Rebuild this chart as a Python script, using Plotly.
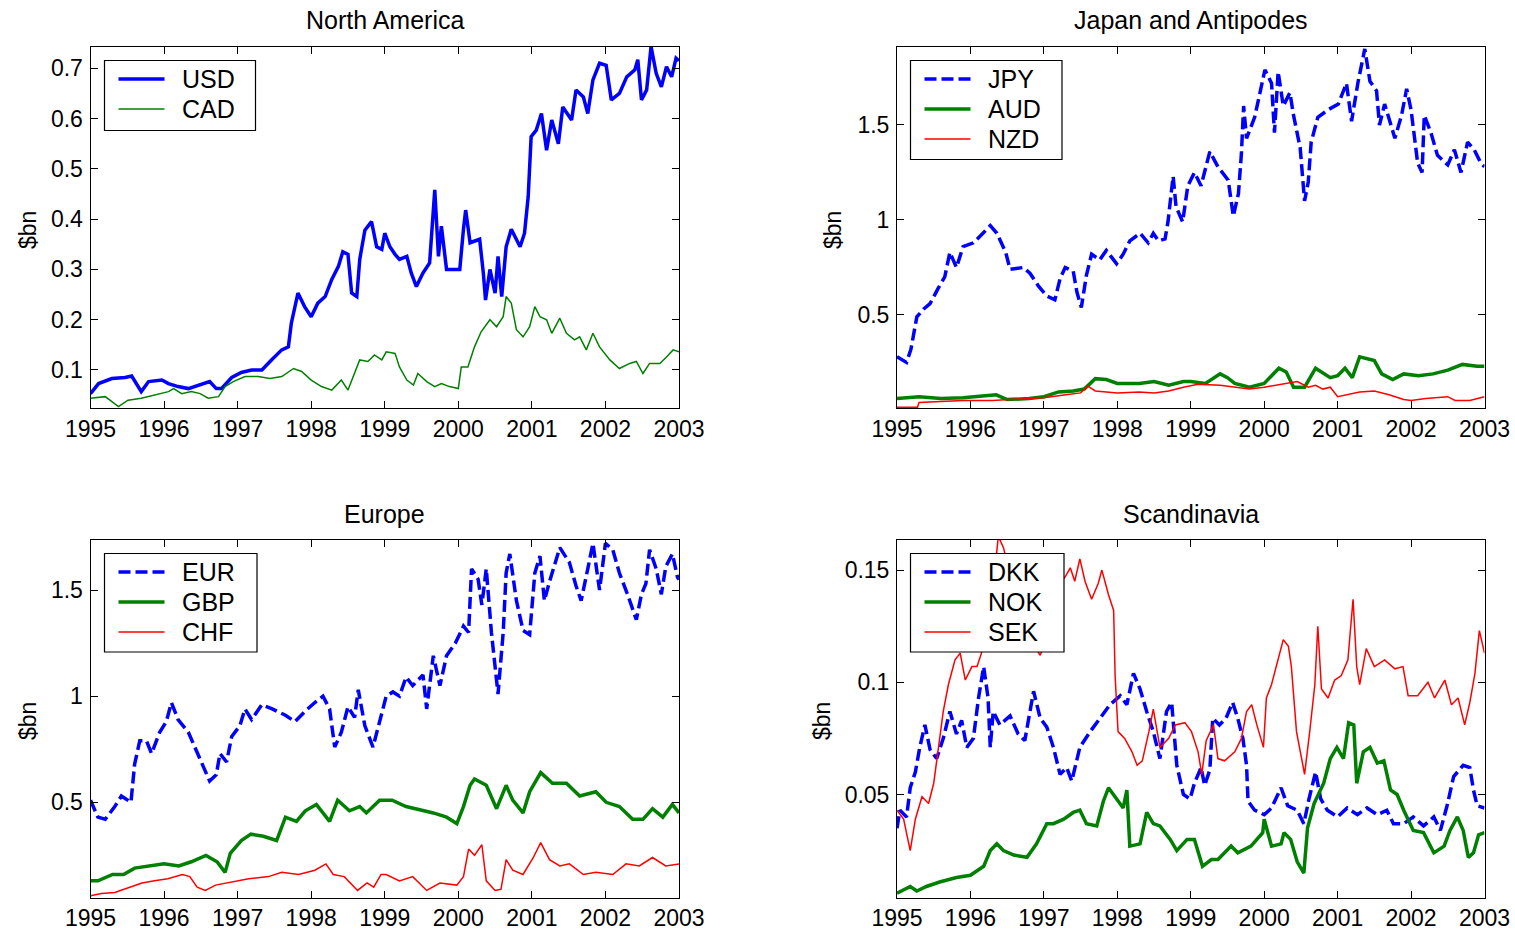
import plotly.graph_objects as go

W, H = 1515, 934
BLUE, GREEN, RED = "#0000ff", "#008000", "#ff0000"
FONT = "Liberation Sans, Arial, sans-serif"

# ---------------- data (year, $bn) ----------------
years = list(range(1995, 2004))

usd = [(1995.0,0.053),(1995.11,0.073),(1995.29,0.083),(1995.47,0.085),(1995.56,0.088),(1995.6,0.078),
       (1995.69,0.057),(1995.79,0.077),(1995.97,0.08),(1996.06,0.073),(1996.19,0.067),(1996.33,0.063),
       (1996.46,0.07),(1996.62,0.077),(1996.71,0.063),(1996.78,0.063),(1996.92,0.085),(1997.05,0.095),
       (1997.19,0.1),(1997.33,0.1),(1997.46,0.12),(1997.6,0.14),(1997.69,0.146),(1997.73,0.193),
       (1997.82,0.253),(1997.91,0.226),(1998.0,0.206),(1998.09,0.233),(1998.19,0.246),(1998.28,0.28),
       (1998.37,0.306),(1998.43,0.335),(1998.5,0.33),(1998.55,0.253),(1998.62,0.246),(1998.66,0.32),
       (1998.73,0.378),(1998.82,0.395),(1998.89,0.345),(1998.96,0.34),(1999.0,0.372),(1999.07,0.345),
       (1999.14,0.33),(1999.2,0.32),(1999.3,0.326),(1999.36,0.293),(1999.43,0.266),(1999.52,0.293),
       (1999.61,0.313),(1999.68,0.458),(1999.73,0.326),(1999.77,0.386),(1999.84,0.3),(1999.93,0.3),
       (2000.02,0.3),(2000.07,0.38),(2000.1,0.418),(2000.16,0.353),(2000.29,0.36),(2000.34,0.293),
       (2000.37,0.239),(2000.43,0.3),(2000.5,0.253),(2000.54,0.326),(2000.59,0.246),(2000.65,0.345),
       (2000.72,0.38),(2000.84,0.345),(2000.9,0.372),(2000.95,0.445),(2000.99,0.564),(2001.06,0.577),
       (2001.13,0.61),(2001.2,0.537),(2001.27,0.597),(2001.36,0.55),(2001.42,0.623),(2001.54,0.597),
       (2001.6,0.657),(2001.7,0.643),(2001.76,0.61),(2001.83,0.677),(2001.92,0.71),(2002.01,0.706),
       (2002.08,0.637),(2002.19,0.65),(2002.29,0.683),(2002.4,0.697),(2002.44,0.717),(2002.49,0.637),
       (2002.56,0.657),(2002.62,0.743),(2002.69,0.69),(2002.76,0.663),(2002.83,0.703),(2002.9,0.683),
       (2002.96,0.72),(2003.0,0.715)]

cad = [(1995.0,0.044),(1995.2,0.047),(1995.38,0.027),(1995.51,0.04),(1995.69,0.044),(1995.88,0.05),
       (1996.06,0.057),(1996.13,0.063),(1996.24,0.053),(1996.37,0.057),(1996.49,0.053),(1996.6,0.044),
       (1996.74,0.047),(1996.83,0.067),(1996.94,0.077),(1997.1,0.087),(1997.28,0.087),(1997.44,0.083),
       (1997.6,0.087),(1997.76,0.103),(1997.87,0.097),(1998.0,0.08),(1998.14,0.067),(1998.28,0.06),
       (1998.41,0.08),(1998.5,0.06),(1998.59,0.093),(1998.66,0.12),(1998.77,0.117),(1998.86,0.13),
       (1998.96,0.12),(1999.02,0.136),(1999.14,0.133),(1999.2,0.106),(1999.3,0.08),(1999.39,0.07),
       (1999.45,0.093),(1999.57,0.077),(1999.68,0.067),(1999.77,0.073),(1999.88,0.067),(2000.0,0.063),
       (2000.04,0.106),(2000.13,0.106),(2000.22,0.146),(2000.31,0.176),(2000.43,0.2),(2000.52,0.186),
       (2000.61,0.206),(2000.65,0.246),(2000.72,0.233),(2000.79,0.18),(2000.88,0.166),(2000.97,0.186),
       (2001.04,0.226),(2001.11,0.206),(2001.2,0.2),(2001.27,0.173),(2001.38,0.203),(2001.47,0.173),
       (2001.58,0.16),(2001.65,0.166),(2001.74,0.14),(2001.83,0.173),(2001.92,0.146),(2002.06,0.12),
       (2002.19,0.103),(2002.33,0.113),(2002.42,0.117),(2002.51,0.093),(2002.6,0.113),(2002.74,0.113),
       (2002.83,0.126),(2002.92,0.14),(2003.0,0.136)]

jpy = [(1995.0,0.28),(1995.13,0.25),(1995.19,0.32),(1995.27,0.49),(1995.36,0.53),(1995.45,0.56),
       (1995.56,0.64),(1995.65,0.7),(1995.72,0.83),(1995.81,0.75),(1995.9,0.86),(1996.04,0.88),
       (1996.17,0.93),(1996.27,0.97),(1996.36,0.93),(1996.48,0.83),(1996.54,0.74),(1996.72,0.75),
       (1996.81,0.72),(1996.93,0.65),(1997.04,0.6),(1997.15,0.58),(1997.22,0.69),(1997.29,0.75),
       (1997.4,0.73),(1997.45,0.62),(1997.51,0.54),(1997.58,0.71),(1997.65,0.82),(1997.76,0.79),
       (1997.85,0.84),(1997.99,0.77),(1998.08,0.82),(1998.17,0.89),(1998.31,0.93),(1998.42,0.88),
       (1998.49,0.93),(1998.56,0.89),(1998.65,0.9),(1998.69,0.99),(1998.76,1.23),(1998.8,1.07),
       (1998.89,0.99),(1998.96,1.18),(1999.05,1.25),(1999.14,1.18),(1999.26,1.36),(1999.37,1.28),
       (1999.51,1.21),(1999.58,1.02),(1999.65,1.14),(1999.69,1.35),(1999.72,1.6),(1999.76,1.43),
       (1999.87,1.54),(1999.96,1.7),(2000.01,1.79),(2000.1,1.72),(2000.14,1.46),(2000.19,1.78),
       (2000.26,1.6),(2000.35,1.67),(2000.4,1.55),(2000.49,1.38),(2000.55,1.1),(2000.6,1.2),
       (2000.64,1.41),(2000.73,1.54),(2000.87,1.58),(2001.01,1.61),(2001.12,1.72),(2001.19,1.52),
       (2001.28,1.73),(2001.37,1.9),(2001.44,1.73),(2001.53,1.68),(2001.57,1.5),(2001.64,1.61),
       (2001.78,1.43),(2001.87,1.55),(2001.94,1.69),(2002.0,1.58),(2002.09,1.3),(2002.15,1.25),
       (2002.18,1.55),(2002.27,1.46),(2002.36,1.34),(2002.5,1.29),(2002.59,1.37),(2002.68,1.25),
       (2002.77,1.41),(2002.86,1.37),(2002.95,1.3),(2003.0,1.28)]

aud = [(1995.0,0.06),(1995.3,0.07),(1995.6,0.06),(1995.9,0.065),(1996.2,0.075),(1996.35,0.08),
       (1996.5,0.055),(1996.8,0.06),(1997.0,0.07),(1997.2,0.095),(1997.4,0.1),(1997.55,0.11),
       (1997.7,0.165),(1997.85,0.16),(1998.0,0.14),(1998.3,0.14),(1998.5,0.15),(1998.7,0.13),
       (1998.9,0.15),(1999.0,0.15),(1999.2,0.14),(1999.4,0.19),(1999.5,0.17),(1999.6,0.14),
       (1999.8,0.12),(2000.0,0.14),(2000.2,0.22),(2000.3,0.2),(2000.4,0.12),(2000.55,0.12),
       (2000.7,0.22),(2000.9,0.17),(2001.0,0.18),(2001.1,0.22),(2001.2,0.17),(2001.3,0.28),
       (2001.5,0.26),(2001.6,0.19),(2001.75,0.16),(2001.9,0.19),(2002.1,0.18),(2002.3,0.19),
       (2002.5,0.21),(2002.7,0.24),(2002.9,0.23),(2003.0,0.23)]

nzd = [(1995.0,0.015),(1995.28,0.015),(1995.3,0.04),(1995.6,0.045),(1995.9,0.05),(1996.3,0.05),
       (1996.6,0.055),(1997.0,0.065),(1997.3,0.08),(1997.5,0.09),(1997.6,0.125),(1997.7,0.1),
       (1998.0,0.09),(1998.3,0.095),(1998.5,0.09),(1998.7,0.1),(1998.9,0.12),(1999.1,0.135),
       (1999.4,0.13),(1999.6,0.12),(1999.8,0.11),(2000.0,0.12),(2000.3,0.14),(2000.45,0.15),
       (2000.6,0.12),(2000.7,0.13),(2000.8,0.11),(2000.9,0.12),(2001.0,0.07),(2001.3,0.095),
       (2001.5,0.1),(2001.7,0.08),(2001.9,0.055),(2002.0,0.05),(2002.2,0.06),(2002.5,0.07),
       (2002.6,0.05),(2002.8,0.05),(2003.0,0.07)]

eur = [(1995.0,0.51),(1995.1,0.43),(1995.2,0.42),(1995.33,0.48),(1995.42,0.53),(1995.55,0.5),
       (1995.6,0.68),(1995.67,0.79),(1995.76,0.79),(1995.83,0.73),(1995.94,0.83),(1996.03,0.88),
       (1996.1,0.97),(1996.19,0.89),(1996.33,0.83),(1996.47,0.72),(1996.62,0.6),(1996.71,0.63),
       (1996.76,0.73),(1996.85,0.69),(1996.92,0.81),(1997.03,0.86),(1997.1,0.94),(1997.19,0.89),
       (1997.33,0.96),(1997.47,0.94),(1997.65,0.91),(1997.78,0.88),(1997.92,0.93),(1998.05,0.97),
       (1998.16,1.0),(1998.25,0.94),(1998.32,0.76),(1998.41,0.83),(1998.5,0.95),(1998.59,0.9),
       (1998.64,1.03),(1998.73,0.86),(1998.84,0.76),(1998.9,0.84),(1999.02,1.0),(1999.11,1.02),
       (1999.2,1.0),(1999.29,1.09),(1999.38,1.05),(1999.52,1.1),(1999.57,0.94),(1999.66,1.19),
       (1999.75,1.05),(1999.84,1.19),(1999.96,1.25),(2000.07,1.33),(2000.14,1.3),(2000.18,1.6),
       (2000.27,1.55),(2000.32,1.43),(2000.38,1.6),(2000.45,1.3),(2000.5,1.14),(2000.54,1.01),
       (2000.61,1.3),(2000.65,1.58),(2000.7,1.67),(2000.79,1.45),(2000.88,1.31),(2000.97,1.29),
       (2001.04,1.58),(2001.11,1.66),(2001.17,1.45),(2001.24,1.54),(2001.38,1.7),(2001.51,1.63),
       (2001.6,1.52),(2001.67,1.45),(2001.76,1.6),(2001.83,1.72),(2001.92,1.5),(2002.0,1.72),
       (2002.1,1.69),(2002.19,1.58),(2002.3,1.48),(2002.42,1.36),(2002.49,1.48),(2002.55,1.53),
       (2002.6,1.69),(2002.69,1.6),(2002.76,1.48),(2002.82,1.61),(2002.91,1.67),(2002.98,1.56),
       (2003.0,1.55)]

gbp = [(1995.0,0.13),(1995.1,0.13),(1995.3,0.16),(1995.45,0.16),(1995.6,0.19),(1995.78,0.2),
       (1996.0,0.21),(1996.2,0.2),(1996.37,0.22),(1996.57,0.25),(1996.72,0.22),(1996.83,0.17),
       (1996.9,0.26),(1997.05,0.32),(1997.18,0.35),(1997.35,0.34),(1997.53,0.32),(1997.65,0.43),
       (1997.8,0.41),(1997.92,0.46),(1998.07,0.49),(1998.16,0.45),(1998.25,0.41),(1998.36,0.51),
       (1998.52,0.46),(1998.66,0.48),(1998.75,0.45),(1998.93,0.51),(1999.1,0.51),(1999.29,0.48),
       (1999.52,0.46),(1999.66,0.45),(1999.84,0.43),(1999.98,0.4),(2000.07,0.48),(2000.16,0.58),
       (2000.22,0.61),(2000.38,0.58),(2000.52,0.47),(2000.65,0.58),(2000.74,0.51),(2000.88,0.45),
       (2000.97,0.55),(2001.12,0.64),(2001.28,0.59),(2001.47,0.59),(2001.65,0.53),(2001.87,0.55),
       (2002.01,0.5),(2002.19,0.48),(2002.37,0.42),(2002.51,0.42),(2002.64,0.47),(2002.78,0.43),
       (2002.91,0.49),(2003.0,0.45)]

chf = [(1995.0,0.06),(1995.15,0.07),(1995.33,0.075),(1995.55,0.1),(1995.7,0.12),(1995.87,0.13),
       (1996.05,0.14),(1996.25,0.16),(1996.35,0.15),(1996.45,0.1),(1996.56,0.085),(1996.7,0.11),
       (1996.92,0.125),(1997.15,0.14),(1997.42,0.15),(1997.6,0.17),(1997.83,0.16),(1998.05,0.18),
       (1998.2,0.21),(1998.3,0.16),(1998.45,0.15),(1998.63,0.085),(1998.76,0.12),(1998.85,0.1),
       (1998.95,0.16),(1999.02,0.16),(1999.2,0.13),(1999.38,0.15),(1999.57,0.085),(1999.75,0.12),
       (1999.98,0.11),(2000.07,0.15),(2000.14,0.28),(2000.22,0.25),(2000.32,0.3),(2000.38,0.13),
       (2000.5,0.085),(2000.58,0.09),(2000.65,0.23),(2000.74,0.18),(2000.88,0.16),(2001.02,0.24),
       (2001.12,0.31),(2001.24,0.23),(2001.38,0.2),(2001.51,0.21),(2001.7,0.16),(2001.87,0.17),
       (2002.1,0.16),(2002.28,0.21),(2002.46,0.2),(2002.64,0.24),(2002.82,0.2),(2003.0,0.21)]

dkk = [(1995.0,0.035),(1995.04,0.043),(1995.13,0.04),(1995.18,0.053),(1995.25,0.06),(1995.31,0.071),
       (1995.38,0.081),(1995.45,0.07),(1995.54,0.066),(1995.63,0.075),(1995.72,0.087),(1995.81,0.077),
       (1995.88,0.083),(1995.95,0.071),(1996.04,0.075),(1996.11,0.093),(1996.18,0.107),(1996.24,0.093),
       (1996.27,0.071),(1996.31,0.087),(1996.4,0.081),(1996.54,0.085),(1996.65,0.077),(1996.74,0.074),
       (1996.86,0.096),(1996.95,0.084),(1997.04,0.08),(1997.13,0.071),(1997.22,0.059),(1997.31,0.062),
       (1997.38,0.056),(1997.49,0.071),(1997.63,0.078),(1997.76,0.084),(1997.9,0.09),(1998.04,0.094),
       (1998.13,0.09),(1998.22,0.104),(1998.31,0.097),(1998.4,0.087),(1998.49,0.078),(1998.58,0.066),
       (1998.67,0.087),(1998.74,0.091),(1998.81,0.063),(1998.9,0.05),(1998.99,0.048),(1999.05,0.055),
       (1999.14,0.062),(1999.19,0.054),(1999.26,0.061),(1999.3,0.084),(1999.39,0.081),(1999.48,0.084),
       (1999.57,0.091),(1999.64,0.084),(1999.71,0.075),(1999.76,0.063),(1999.78,0.047),(1999.87,0.043),
       (2000.0,0.041),(2000.1,0.044),(2000.23,0.053),(2000.32,0.045),(2000.45,0.043),(2000.54,0.037),
       (2000.61,0.048),(2000.7,0.06),(2000.77,0.048),(2000.86,0.043),(2001.0,0.04),(2001.13,0.044),
       (2001.27,0.041),(2001.4,0.044),(2001.54,0.041),(2001.67,0.043),(2001.76,0.037),(2001.9,0.037),
       (2002.03,0.04),(2002.17,0.036),(2002.31,0.04),(2002.4,0.034),(2002.49,0.045),(2002.58,0.058),
       (2002.71,0.063),(2002.8,0.062),(2002.85,0.052),(2002.9,0.045),(2003.0,0.044)]

nok = [(1995.0,0.006),(1995.18,0.009),(1995.27,0.007),(1995.4,0.009),(1995.58,0.011),(1995.81,0.013),
       (1996.0,0.014),(1996.18,0.018),(1996.27,0.025),(1996.36,0.028),(1996.45,0.025),(1996.59,0.023),
       (1996.77,0.022),(1996.9,0.028),(1997.04,0.037),(1997.13,0.037),(1997.27,0.039),(1997.4,0.042),
       (1997.49,0.043),(1997.58,0.037),(1997.72,0.036),(1997.81,0.047),(1997.88,0.053),(1997.99,0.048),
       (1998.08,0.044),(1998.13,0.052),(1998.17,0.027),(1998.31,0.028),(1998.4,0.042),(1998.49,0.037),
       (1998.58,0.036),(1998.72,0.03),(1998.81,0.025),(1998.95,0.03),(1999.05,0.03),(1999.16,0.018),
       (1999.28,0.021),(1999.37,0.021),(1999.55,0.027),(1999.64,0.024),(1999.82,0.027),(1999.98,0.033),
       (2000.0,0.039),(2000.1,0.027),(2000.23,0.028),(2000.27,0.033),(2000.36,0.03),(2000.45,0.02),
       (2000.54,0.015),(2000.59,0.035),(2000.68,0.046),(2000.81,0.055),(2000.9,0.066),(2000.99,0.071),
       (2001.08,0.066),(2001.15,0.082),(2001.22,0.081),(2001.26,0.055),(2001.35,0.069),(2001.44,0.071),
       (2001.54,0.064),(2001.63,0.065),(2001.72,0.052),(2001.81,0.05),(2001.9,0.043),(2002.03,0.034),
       (2002.17,0.033),(2002.31,0.024),(2002.45,0.027),(2002.53,0.034),(2002.63,0.04),(2002.71,0.034),
       (2002.78,0.022),(2002.85,0.024),(2002.92,0.032),(2003.0,0.033)]

sek = [(1995.0,0.043),(1995.09,0.039),(1995.18,0.025),(1995.25,0.039),(1995.34,0.049),(1995.43,0.046),
       (1995.5,0.055),(1995.56,0.069),(1995.63,0.087),(1995.7,0.099),(1995.79,0.11),(1995.86,0.113),
       (1995.93,0.101),(1996.02,0.107),(1996.09,0.107),(1996.15,0.113),(1996.22,0.125),(1996.3,0.14),
       (1996.38,0.165),(1996.45,0.16),(1996.6,0.14),(1996.8,0.12),(1996.95,0.112),(1997.1,0.125),
       (1997.15,0.132),(1997.22,0.144),(1997.29,0.147),(1997.36,0.151),(1997.42,0.145),(1997.49,0.155),
       (1997.56,0.145),(1997.65,0.137),(1997.74,0.144),(1997.79,0.15),(1997.88,0.139),(1997.95,0.132),
       (1997.97,0.103),(1998.01,0.078),(1998.1,0.075),(1998.2,0.069),(1998.27,0.063),(1998.34,0.065),
       (1998.43,0.078),(1998.49,0.088),(1998.58,0.071),(1998.7,0.075),(1998.79,0.081),(1998.92,0.082),
       (1999.01,0.078),(1999.1,0.069),(1999.15,0.059),(1999.21,0.074),(1999.31,0.081),(1999.37,0.066),
       (1999.46,0.065),(1999.6,0.069),(1999.69,0.075),(1999.76,0.087),(1999.83,0.09),(1999.9,0.081),
       (1999.99,0.071),(2000.03,0.093),(2000.1,0.099),(2000.19,0.11),(2000.26,0.119),(2000.33,0.116),
       (2000.37,0.107),(2000.44,0.078),(2000.51,0.066),(2000.55,0.059),(2000.62,0.078),(2000.69,0.099),
       (2000.73,0.125),(2000.78,0.097),(2000.87,0.093),(2000.96,0.101),(2001.05,0.103),(2001.14,0.11),
       (2001.21,0.137),(2001.26,0.107),(2001.3,0.099),(2001.39,0.115),(2001.5,0.107),(2001.64,0.11),
       (2001.78,0.106),(2001.89,0.107),(2001.96,0.094),(2002.09,0.094),(2002.23,0.1),(2002.32,0.093),
       (2002.46,0.101),(2002.55,0.09),(2002.64,0.093),(2002.73,0.081),(2002.8,0.091),(2002.87,0.104),
       (2002.93,0.123),(2003.0,0.113)]

tick_top_left = [0.1, 0.2, 0.3, 0.4, 0.5, 0.6, 0.7]
tick_half = [0.5, 1, 1.5]
tick_scand = [0.05, 0.1, 0.15]

# ---------------- layout helpers ----------------
def fx(p):
    return p / W

def fy(p):
    return 1 - p / H

THICK, THIN = 3.5, 1.5
DASH = "12px,5px"
TICK_SIZE, TITLE_SIZE, LEG_SIZE, LAB_SIZE = 23, 25, 25, 23

panels = [
    dict(title="North America", box=(90.5, 46.5, 679, 408), yr=(0.0244, 0.7433),
         yt=tick_top_left, ytt=["0.1", "0.2", "0.3", "0.4", "0.5", "0.6", "0.7"],
         series=[("USD", usd, BLUE, THICK, "solid"), ("CAD", cad, GREEN, THIN, "solid")],
         leg=(104.5, 60.5, 255.5, 130.5), ylab=(28, 230)),
    dict(title="Japan and Antipodes", box=(897, 46.5, 1484.5, 408), yr=(0.0105, 1.913),
         yt=tick_half, ytt=["0.5", "1", "1.5"],
         series=[("JPY", jpy, BLUE, THICK, DASH), ("AUD", aud, GREEN, THICK, "solid"),
                 ("NZD", nzd, RED, THIN, "solid")],
         leg=(910.5, 60.5, 1062, 159.5), ylab=(833, 230)),
    dict(title="Europe", box=(90.5, 540, 679, 897.5), yr=(0.0516, 1.7357),
         yt=tick_half, ytt=["0.5", "1", "1.5"],
         series=[("EUR", eur, BLUE, THICK, DASH), ("GBP", gbp, GREEN, THICK, "solid"),
                 ("CHF", chf, RED, THIN, "solid")],
         leg=(104.5, 553.5, 257, 652), ylab=(28, 721)),
    dict(title="Scandinavia", box=(897, 540, 1484.5, 897.5), yr=(0.0041, 0.1634),
         yt=tick_scand, ytt=["0.05", "0.1", "0.15"],
         series=[("DKK", dkk, BLUE, THICK, DASH), ("NOK", nok, GREEN, THICK, "solid"),
                 ("SEK", sek, RED, THIN, "solid")],
         leg=(910.5, 553.5, 1064, 652), ylab=(822, 721)),
]

fig = go.Figure()
shapes, annotations = [], []
layout = dict(width=W, height=H, margin=dict(l=0, r=0, t=0, b=0, pad=0, autoexpand=False),
              paper_bgcolor="white", plot_bgcolor="white", showlegend=False,
              font=dict(family=FONT, color="black", size=TICK_SIZE))

axis_common = dict(showline=True, linecolor="black", linewidth=1, mirror="ticks",
                   ticks="inside", ticklen=7, tickwidth=1, tickcolor="black",
                   showgrid=False, zeroline=False, automargin=False,
                   tickfont=dict(family=FONT, size=TICK_SIZE, color="black"))

for i, p in enumerate(panels):
    k = "" if i == 0 else str(i + 1)
    l, t, r, b = p["box"]
    layout["xaxis" + k] = dict(axis_common, domain=[fx(l), fx(r)], anchor="y" + k,
                               range=[years[0], years[-1]], tickvals=years,
                               ticktext=[str(y) for y in years], ticklabelstandoff=0)
    layout["yaxis" + k] = dict(axis_common, domain=[fy(b), fy(t)], anchor="x" + k,
                               range=list(p["yr"]), tickvals=p["yt"], ticktext=p["ytt"],
                               ticklabelstandoff=2)
    for name, data, color, width, dash in p["series"]:
        fig.add_trace(go.Scatter(x=[d[0] for d in data], y=[d[1] for d in data],
                                 mode="lines", name=name, xaxis="x" + k, yaxis="y" + k,
                                 line=dict(color=color, width=width, dash=dash)))
    # title
    annotations.append(dict(text=p["title"], x=fx((l + r) / 2), y=fy(t - 26.5),
                            xref="paper", yref="paper", xanchor="center", yanchor="middle",
                            showarrow=False, font=dict(family=FONT, size=TITLE_SIZE, color="black")))
    # y label
    annotations.append(dict(text="$bn", x=fx(p["ylab"][0]), y=fy(p["ylab"][1]),
                            xref="paper", yref="paper", xanchor="center", yanchor="middle",
                            textangle=-90, showarrow=False,
                            font=dict(family=FONT, size=LAB_SIZE, color="black")))
    # legend box (drawn as in the original figure)
    ll, lt, lr, lb = p["leg"]
    shapes.append(dict(type="rect", xref="paper", yref="paper", x0=fx(ll), x1=fx(lr),
                       y0=fy(lb), y1=fy(lt), line=dict(color="black", width=1.2),
                       fillcolor="white", layer="above"))
    for j, (name, data, color, width, dash) in enumerate(p["series"]):
        yy = lt + 18.5 + 30 * j
        shapes.append(dict(type="line", xref="paper", yref="paper",
                           x0=fx(ll + 14), x1=fx(ll + 60), y0=fy(yy), y1=fy(yy),
                           line=dict(color=color, width=width, dash=dash), layer="above"))
        annotations.append(dict(text=name, x=fx(ll + 75), y=fy(yy), xref="paper", yref="paper",
                                xanchor="left", yanchor="middle", showarrow=False,
                                font=dict(family=FONT, size=LEG_SIZE, color="black")))

layout["shapes"] = shapes
layout["annotations"] = annotations
fig.update_layout(**layout)
fig.write_html("out.html")
